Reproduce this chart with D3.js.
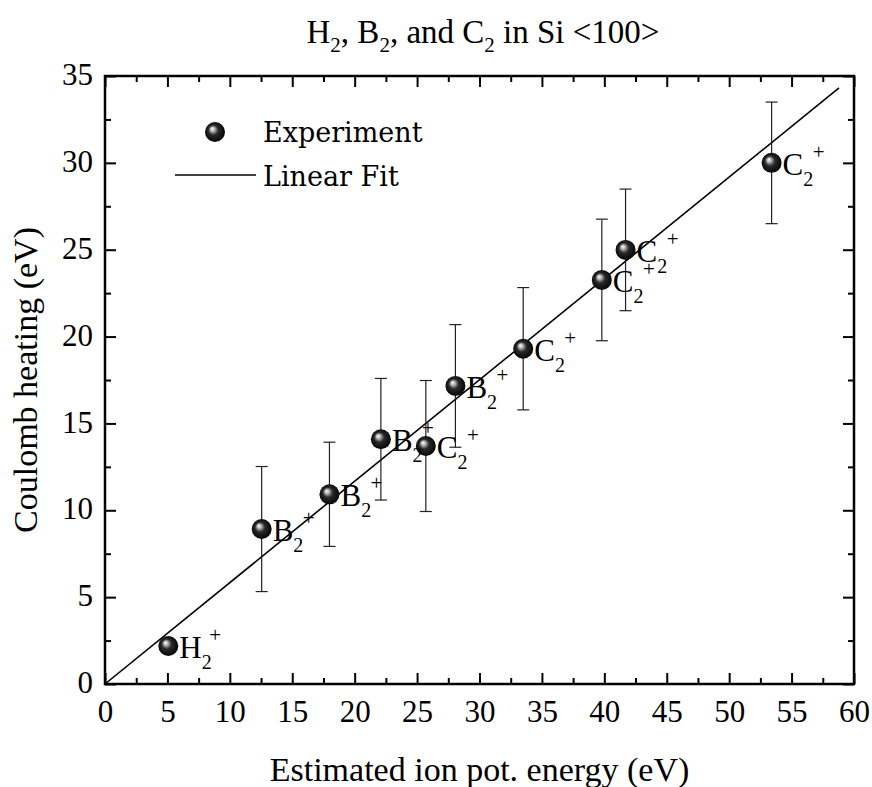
<!DOCTYPE html>
<html>
<head>
<meta charset="utf-8">
<script src="https://cdn.jsdelivr.net/npm/d3@7"></script>
<style>
  body { margin: 0; background: #fff; }
</style>
</head>
<body>
<div id="chart"></div>
<script>
// measured points: ion potential energy vs Coulomb heating
const ionEnergy      = [5.07, 12.55, 17.98, 22.1, 25.7, 28.07, 33.5, 39.8, 41.7, 53.4];
const coulombHeating = [2.19, 8.92, 10.92, 14.09, 13.7, 17.16, 19.3, 23.26, 24.99, 30.0];
const heatingError   = [0, 3.6, 3.0, 3.5, 3.77, 3.53, 3.52, 3.5, 3.5, 3.5];
const ionSpecies     = ["H", "B", "B", "B", "C", "B", "C", "C", "C", "C"];

const xTicks = d3.range(0, 61, 5);
const xMinor = d3.range(2.5, 60, 5);
const yTicks = d3.range(0, 36, 5);
const yMinor = d3.range(2.5, 35, 5);

// linear fit through the origin
const fitSlope = 0.5836;
const fitRange = [0, 58.8];

const serif = "'Liberation Serif', 'Times New Roman', serif";
const width = 872, height = 787;
const margin = { top: 76, right: 18, bottom: 103, left: 105 };

const svg = d3.select("#chart")
    .append("svg")
    .attr("width", width)
    .attr("height", height)
    .style("font-family", serif);

const defs = svg.append("defs");
const grad = defs.append("radialGradient")
    .attr("id", "ball")
    .attr("cx", "50%").attr("cy", "50%").attr("r", "55%")
    .attr("fx", "35%").attr("fy", "33%");
grad.append("stop").attr("offset", "0%").attr("stop-color", "#ffffff");
grad.append("stop").attr("offset", "18%").attr("stop-color", "#bdbdbd");
grad.append("stop").attr("offset", "45%").attr("stop-color", "#2a2a2a");
grad.append("stop").attr("offset", "100%").attr("stop-color", "#000000");

const x = d3.scaleLinear().domain([0, 60]).range([margin.left, width - margin.right]);
const y = d3.scaleLinear().domain([0, 35]).range([height - margin.bottom, margin.top]);

const x0 = x.range()[0], x1 = x.range()[1];
const y0 = y.range()[0], y1 = y.range()[1];

// axes, ticks pointing inward on all four sides
function styleAxis(g) {
    g.attr("font-family", null);
    g.select(".domain").remove();
    g.selectAll(".tick line").attr("stroke", "#000").attr("stroke-width", 2);
    g.selectAll(".tick text")
        .style("font-family", serif)
        .style("font-size", "31px")
        .attr("fill", "#000");
}

svg.append("g")
    .attr("transform", `translate(0,${y0})`)
    .call(d3.axisBottom(x).tickValues(xTicks).tickSize(-11).tickPadding(16))
    .call(styleAxis)
    .selectAll(".tick text").attr("dy", "0.71em");

svg.append("g")
    .attr("transform", `translate(0,${y0})`)
    .call(d3.axisBottom(x).tickValues(xMinor).tickSize(-6).tickFormat(""))
    .call(styleAxis);

svg.append("g")
    .attr("transform", `translate(0,${y1})`)
    .call(d3.axisTop(x).tickValues(xTicks).tickSize(-11).tickFormat(""))
    .call(styleAxis);

svg.append("g")
    .attr("transform", `translate(0,${y1})`)
    .call(d3.axisTop(x).tickValues(xMinor).tickSize(-6).tickFormat(""))
    .call(styleAxis);

svg.append("g")
    .attr("transform", `translate(${x0},0)`)
    .call(d3.axisLeft(y).tickValues(yTicks).tickSize(-11).tickPadding(12))
    .call(styleAxis)
    .selectAll(".tick text").attr("dy", "0.28em");

svg.append("g")
    .attr("transform", `translate(${x0},0)`)
    .call(d3.axisLeft(y).tickValues(yMinor).tickSize(-6).tickFormat(""))
    .call(styleAxis);

svg.append("g")
    .attr("transform", `translate(${x1},0)`)
    .call(d3.axisRight(y).tickValues(yTicks).tickSize(-11).tickFormat(""))
    .call(styleAxis);

svg.append("g")
    .attr("transform", `translate(${x1},0)`)
    .call(d3.axisRight(y).tickValues(yMinor).tickSize(-6).tickFormat(""))
    .call(styleAxis);

// frame
svg.append("rect")
    .attr("x", x0)
    .attr("y", y1)
    .attr("width", x1 - x0)
    .attr("height", y0 - y1)
    .attr("fill", "none")
    .attr("stroke", "#000")
    .attr("stroke-width", 2.5);

// fit line
svg.append("line")
    .attr("x1", x(fitRange[0]))
    .attr("y1", y(fitSlope * fitRange[0]))
    .attr("x2", x(fitRange[1]))
    .attr("y2", y(fitSlope * fitRange[1]))
    .attr("stroke", "#000")
    .attr("stroke-width", 1.6);

const points = ionEnergy.map((e, i) => ({
    x: e, y: coulombHeating[i], err: heatingError[i], ion: ionSpecies[i]
}));

// error bars
const bars = svg.append("g")
    .attr("stroke", "#222")
    .attr("stroke-width", 1.2)
    .selectAll("g")
    .data(points.filter(d => d.err > 0))
    .enter().append("g");

bars.append("line")
    .attr("x1", d => x(d.x)).attr("x2", d => x(d.x))
    .attr("y1", d => y(d.y - d.err)).attr("y2", d => y(d.y + d.err));
bars.append("line")
    .attr("x1", d => x(d.x) - 6).attr("x2", d => x(d.x) + 6)
    .attr("y1", d => y(d.y + d.err)).attr("y2", d => y(d.y + d.err));
bars.append("line")
    .attr("x1", d => x(d.x) - 6).attr("x2", d => x(d.x) + 6)
    .attr("y1", d => y(d.y - d.err)).attr("y2", d => y(d.y - d.err));

// markers
svg.append("g")
    .selectAll("circle")
    .data(points)
    .enter().append("circle")
    .attr("cx", d => x(d.x))
    .attr("cy", d => y(d.y))
    .attr("r", 10)
    .attr("fill", "url(#ball)");

// labels: X with subscript 2 and superscript +
const labels = svg.append("g")
    .selectAll("g")
    .data(points)
    .enter().append("g")
    .attr("transform", d => `translate(${x(d.x)},${y(d.y)})`);

const lbl = labels.append("text")
    .attr("x", 11)
    .attr("y", 12)
    .style("font-size", "31px");
lbl.append("tspan").text(d => d.ion);
lbl.append("tspan").attr("dy", 11).style("font-size", "20px").text("2");

labels.append("text")
    .attr("x", 47)
    .attr("y", -4)
    .attr("text-anchor", "middle")
    .style("font-size", "21px")
    .text("+");

// legend
const legend = svg.append("g");
legend.append("circle")
    .attr("cx", 215).attr("cy", 132).attr("r", 10)
    .attr("fill", "url(#ball)");
legend.append("text")
    .attr("x", 263).attr("y", 142)
    .style("font-family", "'DejaVu Serif', serif")
    .style("font-size", "27px")
    .text("Experiment");
legend.append("line")
    .attr("x1", 175).attr("x2", 256)
    .attr("y1", 175).attr("y2", 175)
    .attr("stroke", "#000").attr("stroke-width", 1.6);
legend.append("text")
    .attr("x", 263).attr("y", 186)
    .style("font-family", "'DejaVu Serif', serif")
    .style("font-size", "27px")
    .text("Linear Fit");

// title
const title = svg.append("text")
    .attr("x", 483)
    .attr("y", 43)
    .attr("text-anchor", "middle")
    .style("font-size", "33px");
title.append("tspan").text("H");
title.append("tspan").attr("dy", 9).style("font-size", "21px").text("2");
title.append("tspan").attr("dy", -9).text(", B");
title.append("tspan").attr("dy", 9).style("font-size", "21px").text("2");
title.append("tspan").attr("dy", -9).text(", and C");
title.append("tspan").attr("dy", 9).style("font-size", "21px").text("2");
title.append("tspan").attr("dy", -9).text(" in Si <100>");

// axis titles
svg.append("text")
    .attr("x", (x0 + x1) / 2)
    .attr("y", 781)
    .attr("text-anchor", "middle")
    .style("font-size", "34px")
    .text("Estimated ion pot. energy (eV)");

svg.append("text")
    .attr("transform", `translate(37,${(y0 + y1) / 2}) rotate(-90)`)
    .attr("text-anchor", "middle")
    .style("font-size", "34px")
    .text("Coulomb heating (eV)");
</script>
</body>
</html>
